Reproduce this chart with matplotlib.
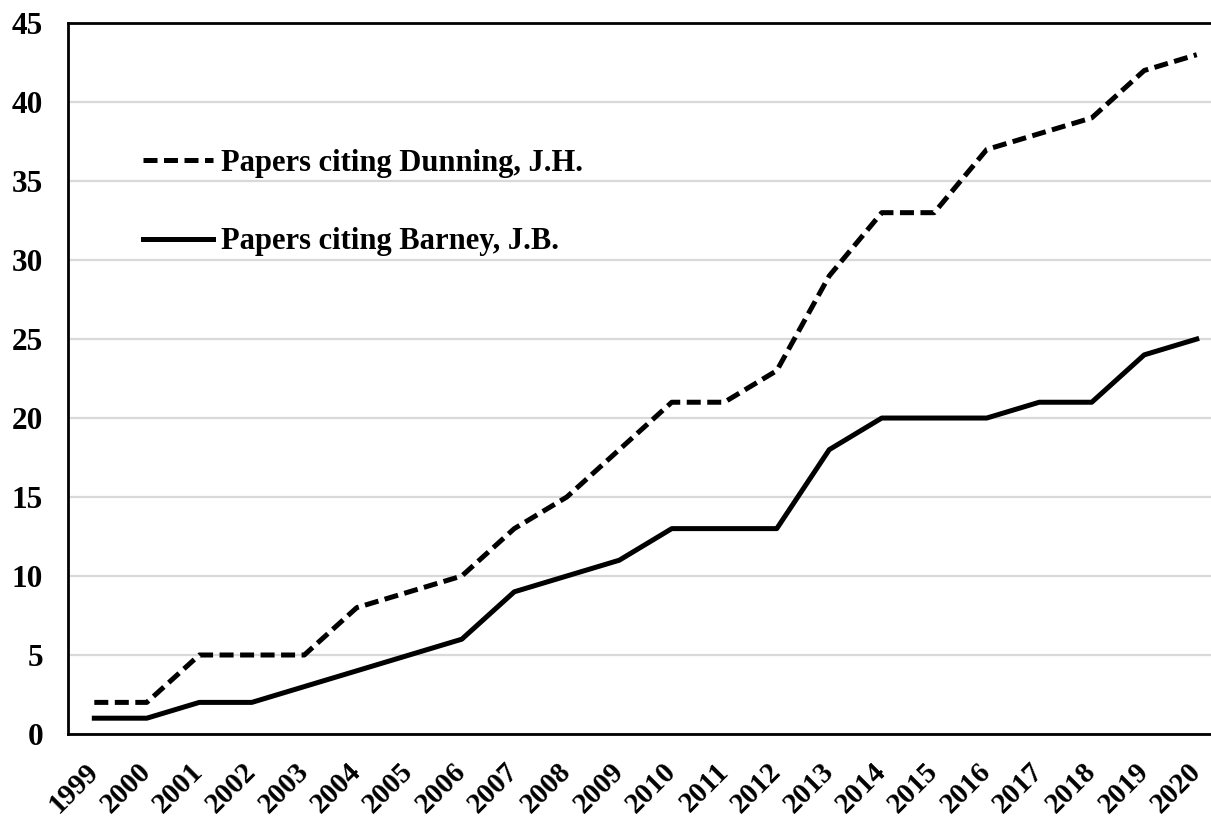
import matplotlib
matplotlib.use("Agg")
import matplotlib.pyplot as plt

years = [str(y) for y in range(1999, 2021)]
dunning = [2, 2, 5, 5, 5, 8, 9, 10, 13, 15, 18, 21, 21, 23, 29, 33, 33, 37, 38, 39, 42, 43]
barney = [1, 1, 2, 2, 3, 4, 5, 6, 9, 10, 11, 13, 13, 13, 18, 20, 20, 20, 21, 21, 24, 25]
yticks = list(range(0, 50, 5))

plt.rcParams['font.family'] = ['Liberation Serif', 'DejaVu Serif']
plt.rcParams['font.weight'] = 'bold'

fig = plt.figure(figsize=(12.11, 8.19), dpi=100)
ax = fig.add_axes([0.0562, 0.1038, 0.9537, 0.868])

x = list(range(len(years)))
ax.plot(x, dunning, color='black', lw=3.6, ls=(0, (2.8, 1.3)),
        label='Papers citing Dunning, J.H.')
ax.plot(x, barney, color='black', lw=3.6, label='Papers citing Barney, J.B.')

ax.set_xlim(-0.5, len(years) - 0.5)
ax.set_ylim(0, 45)
ax.set_yticks(yticks)
ax.set_xticks(x)
ax.set_xticklabels(years, rotation=45, ha='right', va='center', rotation_mode='anchor')
ax.tick_params(axis='both', length=0)
ax.tick_params(axis='x', pad=24, labelsize=21)
ax.tick_params(axis='y', pad=18, labelsize=22.5)
ax.yaxis.grid(True, color='#d9d9d9', lw=1.6)
ax.set_axisbelow(True)
for s in ax.spines.values():
    s.set_linewidth(2)
    s.set_color('black')
ax.spines['right'].set_visible(False)

leg = ax.legend(loc='upper left', bbox_to_anchor=(143 / 1211, 1 - 149 / 819),
                bbox_transform=fig.transFigure, frameon=False, fontsize=22,
                handlelength=2.3, handletextpad=0.25, labelspacing=1.62,
                borderpad=0, borderaxespad=0)

fig.savefig('out.png', dpi=100)
